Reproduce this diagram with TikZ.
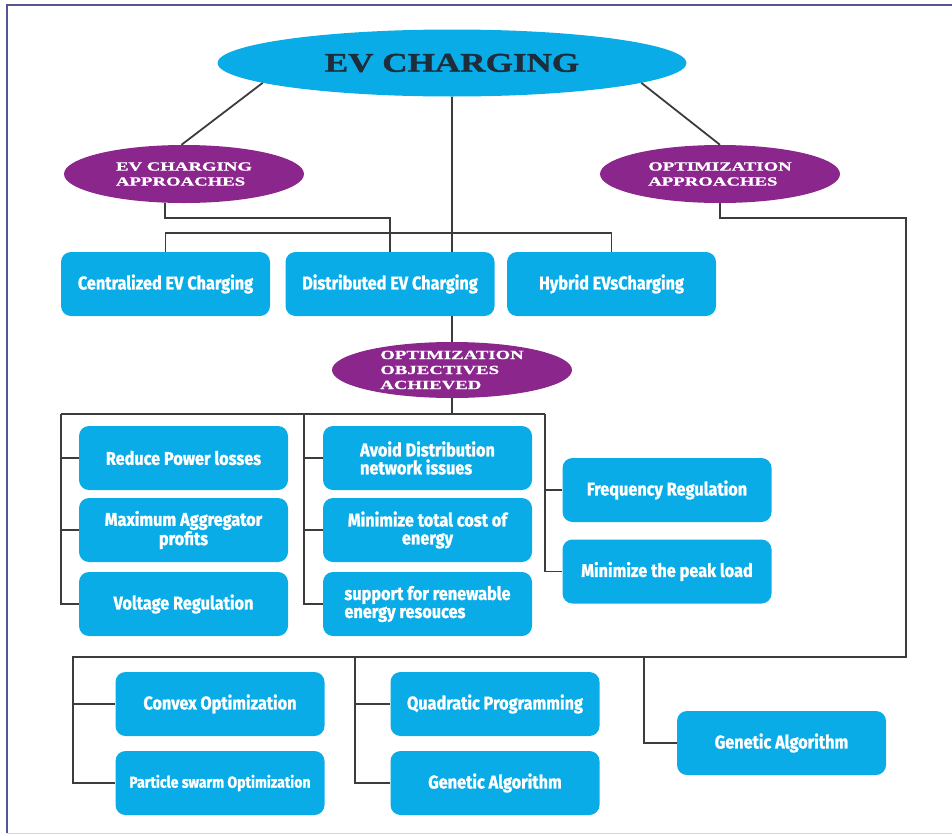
\documentclass[tikz,border=0pt]{standalone}
\usepackage{fontspec}
\usepackage{xcolor}
\usetikzlibrary{shapes.geometric}
\newfontfamily\boxfont[FakeStretch=0.88,FakeBold=1.2]{Fira Sans}
\newfontfamily\headfont[FakeStretch=1.3,FakeBold=1.5]{Liberation Serif}
\newfontfamily\apprfont[FakeStretch=1.5,FakeBold=1]{Liberation Serif}
\definecolor{evblue}{RGB}{10,172,232}
\definecolor{evpurple}{RGB}{139,38,140}
\definecolor{wirec}{RGB}{60,60,60}
\definecolor{framec}{RGB}{85,85,150}
\definecolor{headc}{RGB}{30,45,60}
\tikzset{
  rootell/.style={ellipse,fill=evblue,text=headc,inner sep=0pt,minimum width=469pt,minimum height=67pt,font=\headfont\bfseries\fontsize{27}{30}\selectfont},
  appr/.style={ellipse,fill=evpurple,text=white,inner xsep=0pt,inner ysep=-10pt,minimum width=240pt,minimum height=58pt,font=\apprfont\bfseries\fontsize{12.5}{15}\selectfont,align=left},
  obox/.style={rectangle,rounded corners=10pt,fill=evblue,text=white,inner sep=0pt,minimum width=209pt,minimum height=64pt,font=\boxfont\bfseries\fontsize{18.5}{18}\selectfont,align=center},
  wire/.style={draw=wirec,line width=1.8pt},
  frame/.style={draw=framec,line width=2.5pt}
}
\begin{document}
\begin{tikzpicture}[x=1pt,y=-1pt]
\useasboundingbox (0,0) rectangle (952,835);
\draw[frame] (952,5) -- (7,5) -- (7,833);
\draw[framec!25,line width=1pt] (7,833) -- (952,833);
\node[rootell] (root) at (452,63) {EV CHARGING};
\node[appr] (chrg) at (184,174) {EV CHARGING\\APPROACHES};
\node[appr] (optm) at (720,174) {OPTIMIZATION\\APPROACHES};
\node[obox] (cent) at (165.5,284) {Centralized EV Charging};
\node[obox] (dist) at (390,284) {Distributed EV Charging};
\node[obox] (hybr) at (611.5,284) {Hybrid EVsCharging};
\node[appr,minimum height=56pt] (objv) at (452,370) {OPTIMIZATION\\OBJECTIVES\\ACHIEVED};
\node[obox] (loss) at (183.5,458) {Reduce Power losses};
\node[obox] (aggr) at (183.5,530) {Maximum Aggregator\\profits};
\node[obox] (volt) at (183.5,604) {Voltage Regulation};
\node[obox,align=left] (netw) at (427.5,458) {Avoid Distribution\\network issues};
\node[obox] (cost) at (427.5,530) {Minimize total cost of\\energy};
\node[obox,align=left] (renw) at (427.5,604) {support for renewable\\energy resouces};
\node[obox] (freq) at (667,490) {Frequency Regulation};
\node[obox] (peak) at (667,571.5) {Minimize the peak load};
\node[obox] (cnvx) at (220,704) {Convex Optimization};
\node[obox,font=\boxfont\bfseries\fontsize{16}{18}\selectfont] (pso) at (220,783) {Particle swarm Optimization};
\node[obox] (quad) at (495,704) {Quadratic Programming};
\node[obox] (gena) at (495,783) {Genetic Algorithm};
\node[obox] (genb) at (781.5,743) {Genetic Algorithm};
\draw[wire] (root.186) -- (chrg.95);
\draw[wire] (root.354) -- (optm.north);
\draw[wire] (root.south) -- (root.south |- dist.north);
\coordinate (ca) at (165,218);
\draw[wire] (chrg.south -| ca) -- (ca) -| (dist.north);
\draw[wire] (cent.north) -- ++(0,-19) -| (hybr.north);
\draw[wire] (objv.north |- dist.south) -- (objv.north);
\coordinate (ob1) at (61,414);
\coordinate (ob2) at (304,414);
\coordinate (ob3) at (545,414);
\draw[wire] (objv.south) -- (objv.south |- ob1);
\draw[wire] (ob1) -- (ob3);
\draw[wire] (ob1) |- (volt.west);
\foreach \n in {loss,aggr} \draw[wire] (ob1 |- \n.west) -- (\n.west);
\draw[wire] (ob2) |- (renw.west);
\foreach \n in {netw,cost} \draw[wire] (ob2 |- \n.west) -- (\n.west);
\draw[wire] (ob3) |- (peak.west);
\draw[wire] (ob3 |- freq.west) -- (freq.west);
\coordinate (oc) at (906,218);
\coordinate (ba) at (73,657);
\coordinate (bb) at (355,657);
\coordinate (bc) at (644,657);
\draw[wire] (optm.south) |- (oc) |- (ba) |- (pso.west);
\draw[wire] (ba |- cnvx.west) -- (cnvx.west);
\draw[wire] (bb) |- (gena.west);
\draw[wire] (bb |- quad.west) -- (quad.west);
\draw[wire] (bc) |- (genb.west);
\end{tikzpicture}
\end{document}
